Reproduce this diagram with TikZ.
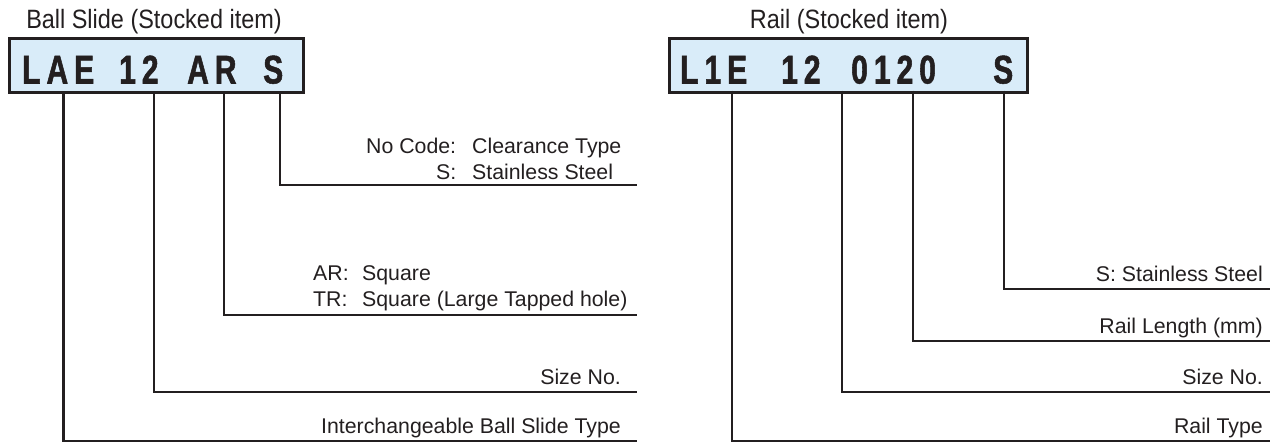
\documentclass[tikz,border=0pt]{standalone}
\usepackage{fontspec}
\setmainfont{Liberation Sans}
\newfontfamily\titlefont[FakeStretch=0.885]{Liberation Sans}
\newfontfamily\codefont[FakeStretch=0.75,LetterSpace=15,FakeBold=1.3]{Liberation Sans}
\definecolor{ink}{HTML}{231F20}
\definecolor{boxfill}{HTML}{D9ECF9}
\tikzset{
  codebox/.style={draw=ink, line width=3pt, fill=boxfill, inner sep=0pt, anchor=north west},
  code/.style={anchor=base west, inner sep=0pt, text=ink, font=\codefont\bfseries\fontsize{40}{42}\selectfont},
  title/.style={anchor=base, inner sep=0pt, text=ink, font=\titlefont\fontsize{26.5}{30}\selectfont},
  lab/.style={inner sep=0pt, text=ink, font=\fontsize{21.3}{26}\selectfont},
  conn/.style={draw=ink, line width=2.3pt}
}
\begin{document}
\begin{tikzpicture}[x=1pt,y=-1pt]
\useasboundingbox (0,0) rectangle (1271,444);

% ---- Ball slide ----
\node[title] (ltitle) at (154,28.5) {Ball Slide (Stocked item)};
\node[codebox, minimum width=294pt, minimum height=53.5pt] (lbox) at (7.5,37.5) {};
\node[code] (lae) at (22,83.5) {LAE};
\node[code] (l12) at (119,83.5) {12};
\node[code] (lar) at (187,83.5) {AR};
\node[code] (ls) at (263,83.5) {S};

\node[lab, anchor=base west] (llS) at (366,153)
  {\begin{tabular}[t]{@{}r@{\hspace{16pt}}l@{}}No Code: & Clearance Type\\ S: & Stainless Steel\end{tabular}};
\node[lab, anchor=base west] (llAR) at (313,280)
  {\begin{tabular}[t]{@{}l@{\hspace{13.5pt}}l@{}}AR: & Square\\ TR: & Square (Large Tapped hole)\end{tabular}};
\node[lab, anchor=base east] (llSize) at (621,384) {Size No.};
\node[lab, anchor=base east] (llType) at (621,433) {Interchangeable Ball Slide Type};

\coordinate (la1) at (63.5,91);
\coordinate (la2) at (154,91);
\coordinate (la3) at (224,91);
\coordinate (la4) at (280,91);
\coordinate (le1) at (637,441);
\coordinate (le2) at (637,392);
\coordinate (le3) at (637,315);
\coordinate (le4) at (637,185);
\draw[conn] (la1) |- (le1);
\draw[conn] (la2) |- (le2);
\draw[conn] (la3) |- (le3);
\draw[conn] (la4) |- (le4);

% ---- Rail ----
\node[title] (rtitle) at (849,28.5) {Rail (Stocked item)};
\node[codebox, minimum width=358.5pt, minimum height=53pt] (rbox) at (667.5,37.5) {};
\node[code] (rl1e) at (680,83.5) {L1E};
\node[code] (r12) at (781,83.5) {12};
\node[code] (r0120) at (851,83.5) {0120};
\node[code] (rs) at (993,83.5) {S};

\node[lab, anchor=base east] (rlS) at (1263,281) {S: Stainless Steel};
\node[lab, anchor=base east] (rlLen) at (1263,333) {Rail Length (mm)};
\node[lab, anchor=base east] (rlSize) at (1263,384) {Size No.};
\node[lab, anchor=base east] (rlType) at (1263,433) {Rail Type};

\coordinate (ra1) at (732,90.5);
\coordinate (ra2) at (842,90.5);
\coordinate (ra3) at (913,90.5);
\coordinate (ra4) at (1004,90.5);
\coordinate (re1) at (1270,441);
\coordinate (re2) at (1270,392);
\coordinate (re3) at (1270,341);
\coordinate (re4) at (1270,289);
\draw[conn] (ra1) |- (re1);
\draw[conn] (ra2) |- (re2);
\draw[conn] (ra3) |- (re3);
\draw[conn] (ra4) |- (re4);
\end{tikzpicture}
\end{document}
